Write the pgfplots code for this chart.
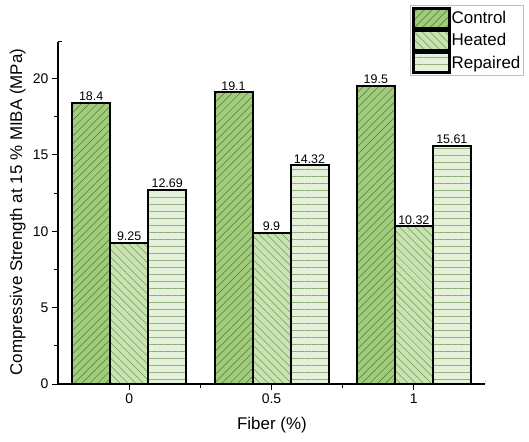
\documentclass[border=0pt]{standalone}
\usepackage{pgfplots}
\pgfplotsset{compat=1.18}
\usetikzlibrary{patterns.meta}
\usepackage{fontspec}
\setmainfont{Liberation Sans}
\definecolor{ctrl}{HTML}{A0CC7C}
\definecolor{heat}{HTML}{C9E3B2}
\definecolor{rep}{HTML}{E5F1DA}
\definecolor{ctrlL}{HTML}{4F7A33}
\definecolor{heatL}{HTML}{6F9A55}
\definecolor{repL}{HTML}{8FAE7A}
\begin{document}
\begin{tikzpicture}
\useasboundingbox (-58bp,-58bp) rectangle (471bp,384bp);
\begin{axis}[
  at={(0,0)}, anchor=south west,
  scale only axis, width=427bp, height=342bp,
  ybar=0pt, bar width=38bp,
  xmin=-0.5, xmax=2.5, ymin=0, ymax=22.4,
  axis lines*=left,
  axis line style={line width=1.1bp, black},
  xtick={0,1,2}, xticklabels={0,0.5,1},
  minor xtick={0.5,1.5},
  ytick={0,5,10,15,20}, minor ytick={2.5,7.5,12.5,17.5},
  tick align=outside,
  major tick length=6bp, minor tick length=3.5bp,
  every tick/.style={black, line width=1bp},
  /pgf/number format/assume math mode=true,
  tick label style={font=\fontsize{14}{16}\selectfont, black},
  xlabel={Fiber (\%)},
  ylabel={Compressive Strength at 15 \% MIBA (MPa)},
  label style={font=\fontsize{17}{19}\selectfont},
  x label style={at={(axis description cs:0.501,-0.12)}, anchor=center},
  y label style={at={(axis description cs:-0.094,0.503)}, anchor=center},
  nodes near coords,
  every node near coord/.append style={font=\fontsize{12.5}{14}\selectfont, black, inner sep=1.2bp},
  legend style={at={(rel axis cs:0.824,1.108)}, anchor=north west, draw=gray!50, line width=0.6bp,
    font=\fontsize{17}{19}\selectfont, inner sep=2bp, row sep=0bp,
    nodes={inner sep=1bp},
    /tikz/every even column/.append style={column sep=3bp}},
  legend cell align=left,
  legend image code/.code={\draw[#1,line width=2.5bp] (0bp,-9.8bp) rectangle (36bp,9.8bp);},
]
\addplot[draw=black, line width=2bp, fill=ctrl,
  postaction={pattern={Lines[angle=45,distance=5.5bp,line width=0.5bp]}, pattern color=ctrlL}]
  coordinates {(0,18.4) (1,19.1) (2,19.5)};
\addplot[draw=black, line width=2bp, fill=heat,
  postaction={pattern={Lines[angle=-45,distance=5.5bp,line width=0.5bp]}, pattern color=heatL}]
  coordinates {(0,9.25) (1,9.9) (2,10.32)};
\addplot[draw=black, line width=2bp, fill=rep,
  postaction={pattern={Lines[angle=0,distance=7bp,line width=0.5bp]}, pattern color=repL}]
  coordinates {(0,12.69) (1,14.32) (2,15.61)};
\legend{Control,Heated,Repaired}
\draw[black, line width=1bp] (rel axis cs:0,1) -- ([xshift=4bp]rel axis cs:0,1);
\draw[black, line width=1bp] (rel axis cs:1,0) -- ([yshift=4bp]rel axis cs:1,0);
\end{axis}
\end{tikzpicture}
\end{document}
